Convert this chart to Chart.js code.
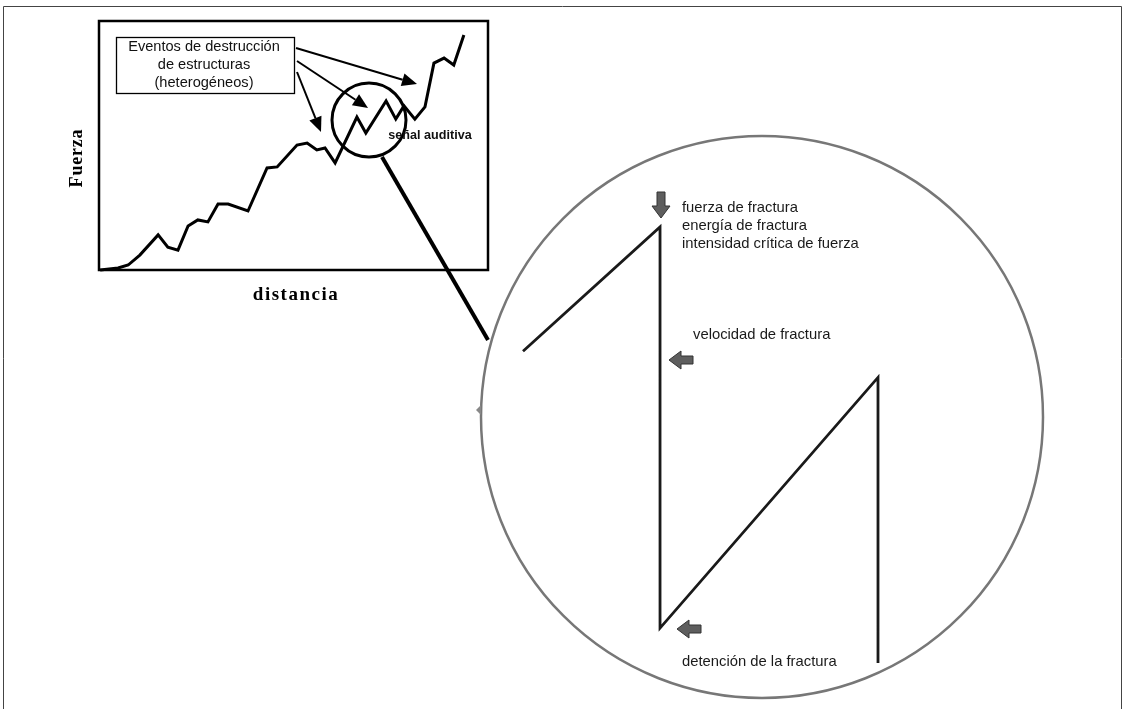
<!DOCTYPE html>
<html>
<head>
<meta charset="utf-8">
<script src="https://cdn.jsdelivr.net/npm/chart.js@4.4.1/dist/chart.umd.min.js"></script>
<style>
  html, body { margin: 0; padding: 0; background: #fff; }
  #wrap { position: relative; width: 1127px; height: 709px; overflow: hidden; }
  canvas { position: absolute; left: 0; top: 0; }
</style>
</head>
<body>
<div id="wrap">
  <canvas id="inset" width="1127" height="709"></canvas>
  <canvas id="zoom" width="1127" height="709"></canvas>
</div>
<script>
// ---- Inset curve (distancia vs Fuerza, arbitrary units 0..100) ----
const curveX = [0.3, 4.9, 7.5, 10.5, 15.2, 17.7, 20.3, 22.9, 25.4, 28.0, 30.6, 33.2, 38.3, 43.2, 45.8, 50.9, 53.5, 56.0, 58.1, 60.7, 66.3, 68.6, 73.8, 76.3, 78.4, 81.2, 83.8, 86.1, 88.7, 91.2, 93.8];
const curveY = [0.0, 0.8, 2.0, 6.0, 14.1, 9.2, 8.0, 17.7, 20.1, 19.3, 26.5, 26.5, 23.7, 41.0, 41.4, 50.2, 51.0, 48.2, 49.0, 43.0, 61.4, 55.0, 67.9, 60.6, 65.9, 60.6, 65.5, 83.1, 85.1, 82.3, 94.4];

// ---- Magnified sawtooth (arbitrary units 0..10) ----
const sawX = [0, 3.86, 3.86, 10, 10];
const sawY = [7.15, 10, 0.8, 6.55, 0];

// ---- Texts ----
const boxLines = ["Eventos de destrucción", "de estructuras", "(heterogéneos)"];
const yLabel = "Fuerza";
const xLabel = "distancia";
const signalLabel = "señal auditiva";
const peakLines = ["fuerza de fractura", "energía de fractura", "intensidad crítica de fuerza"];
const speedLabel = "velocidad de fractura";
const stopLabel = "detención de la fractura";

function arrow(ctx, x1, y1, x2, y2, head, w) {
  const a = Math.atan2(y2 - y1, x2 - x1);
  const bx = x2 - head * Math.cos(a), by = y2 - head * Math.sin(a);
  ctx.beginPath(); ctx.moveTo(x1, y1); ctx.lineTo(bx, by); ctx.stroke();
  ctx.beginPath();
  ctx.moveTo(x2, y2);
  ctx.lineTo(bx + w * Math.sin(a), by - w * Math.cos(a));
  ctx.lineTo(bx - w * Math.sin(a), by + w * Math.cos(a));
  ctx.closePath(); ctx.fill();
}

function grayArrow(ctx, pts) {
  ctx.beginPath();
  ctx.moveTo(pts[0][0], pts[0][1]);
  for (let i = 1; i < pts.length; i++) ctx.lineTo(pts[i][0], pts[i][1]);
  ctx.closePath();
  ctx.fillStyle = '#5e5e5e'; ctx.fill();
  ctx.strokeStyle = '#333'; ctx.lineWidth = 1; ctx.stroke();
}

const decor = {
  id: 'decor',
  beforeDraw(chart) {
    const ctx = chart.ctx;
    ctx.save();
    ctx.fillStyle = '#fff';
    ctx.fillRect(0, 0, chart.width, chart.height);
    ctx.restore();
  },
  afterDraw(chart) {
    const ctx = chart.ctx;
    const a = chart.chartArea;
    ctx.save();
    // page frame
    ctx.strokeStyle = '#444'; ctx.lineWidth = 1;
    ctx.beginPath();
    ctx.moveTo(3.5, 712); ctx.lineTo(3.5, 6.5); ctx.lineTo(1121.5, 6.5); ctx.lineTo(1121.5, 712);
    ctx.stroke();
    // inset frame
    ctx.strokeStyle = '#000'; ctx.lineWidth = 2.5;
    ctx.strokeRect(a.left, a.top, a.right - a.left, a.bottom - a.top);
    // text box
    ctx.lineWidth = 1.3;
    ctx.strokeRect(116.5, 37.5, 178, 56);
    ctx.fillStyle = '#111';
    ctx.font = '14.6px "Liberation Sans", Arial, sans-serif';
    ctx.textAlign = 'center'; ctx.textBaseline = 'alphabetic';
    boxLines.forEach((t, i) => ctx.fillText(t, 204, 51 + i * 18));
    // arrows
    ctx.strokeStyle = '#000'; ctx.fillStyle = '#000'; ctx.lineWidth = 2;
    arrow(ctx, 296, 48, 417, 84, 15, 6.5);
    arrow(ctx, 297, 61, 368, 108, 15, 6.5);
    arrow(ctx, 297, 72, 321, 132, 15, 6.5);
    // magnifier
    ctx.lineWidth = 3;
    ctx.beginPath(); ctx.arc(369, 120, 37, 0, Math.PI * 2); ctx.stroke();
    ctx.lineWidth = 4;
    ctx.beginPath(); ctx.moveTo(382, 157); ctx.lineTo(488, 340); ctx.stroke();
    // señal auditiva
    ctx.fillStyle = '#111';
    ctx.font = 'bold 12.6px "Liberation Sans", Arial, sans-serif';
    ctx.fillText(signalLabel, 430, 139);
    // axis titles
    ctx.fillStyle = '#000';
    ctx.font = 'bold 19px "Liberation Serif", "Times New Roman", serif';
    ctx.letterSpacing = '1.5px';
    ctx.fillText(xLabel, 296, 300);
    ctx.save();
    ctx.translate(82, 158);
    ctx.rotate(-Math.PI / 2);
    ctx.letterSpacing = '0.8px';
    ctx.font = 'bold 18px "Liberation Serif", "Times New Roman", serif';
    ctx.fillText(yLabel, 0, 0);
    ctx.restore();
    ctx.letterSpacing = '0px';
    // big circle
    ctx.strokeStyle = '#777'; ctx.lineWidth = 2.5;
    ctx.beginPath(); ctx.arc(762, 417, 281, 0, Math.PI * 2); ctx.stroke();
    // small gray mark on circle edge
    ctx.fillStyle = '#888';
    ctx.beginPath(); ctx.moveTo(476, 410); ctx.lineTo(481, 405); ctx.lineTo(481, 415); ctx.closePath(); ctx.fill();
    ctx.restore();
  }
};

const zoomDecor = {
  id: 'zoomDecor',
  afterDraw(chart) {
    const ctx = chart.ctx;
    ctx.save();
    grayArrow(ctx, [[657,192],[665,192],[665,206],[670,206],[661,218],[652,206],[657,206]]);
    grayArrow(ctx, [[693,356],[693,364],[681,364],[681,369],[669,360],[681,351],[681,356]]);
    grayArrow(ctx, [[701,625],[701,633],[689,633],[689,638],[677,629],[689,620],[689,625]]);
    ctx.fillStyle = '#1a1a1a';
    ctx.font = '14.8px "Liberation Sans", Arial, sans-serif';
    ctx.textAlign = 'left'; ctx.textBaseline = 'alphabetic';
    peakLines.forEach((t, i) => ctx.fillText(t, 682, 212 + i * 18));
    ctx.fillText(speedLabel, 693, 339);
    ctx.fillText(stopLabel, 682, 666);
    ctx.restore();
  }
};

new Chart(document.getElementById('inset'), {
  type: 'scatter',
  data: {
    datasets: [{
      data: curveX.map((x, i) => ({ x, y: curveY[i] })),
      showLine: true, borderColor: '#000', borderWidth: 3,
      pointRadius: 0, tension: 0, clip: false, borderJoinStyle: 'miter'
    }]
  },
  options: {
    responsive: false, animation: false,
    layout: { padding: { left: 99, top: 21, right: 1127 - 488, bottom: 709 - 270 } },
    scales: {
      x: { type: 'linear', min: 0, max: 100, display: false },
      y: { type: 'linear', min: 0, max: 100, display: false }
    },
    plugins: { legend: { display: false }, tooltip: { enabled: false } }
  },
  plugins: [decor]
});

new Chart(document.getElementById('zoom'), {
  type: 'scatter',
  data: {
    datasets: [{
      data: sawX.map((x, i) => ({ x, y: sawY[i] })),
      showLine: true, borderColor: '#1a1a1a', borderWidth: 2.8,
      pointRadius: 0, tension: 0, clip: false
    }]
  },
  options: {
    responsive: false, animation: false,
    layout: { padding: { left: 523, top: 227, right: 1127 - 878, bottom: 709 - 663 } },
    scales: {
      x: { type: 'linear', min: 0, max: 10, display: false },
      y: { type: 'linear', min: 0, max: 10, display: false }
    },
    plugins: { legend: { display: false }, tooltip: { enabled: false } }
  },
  plugins: [zoomDecor]
});
</script>
</body>
</html>
